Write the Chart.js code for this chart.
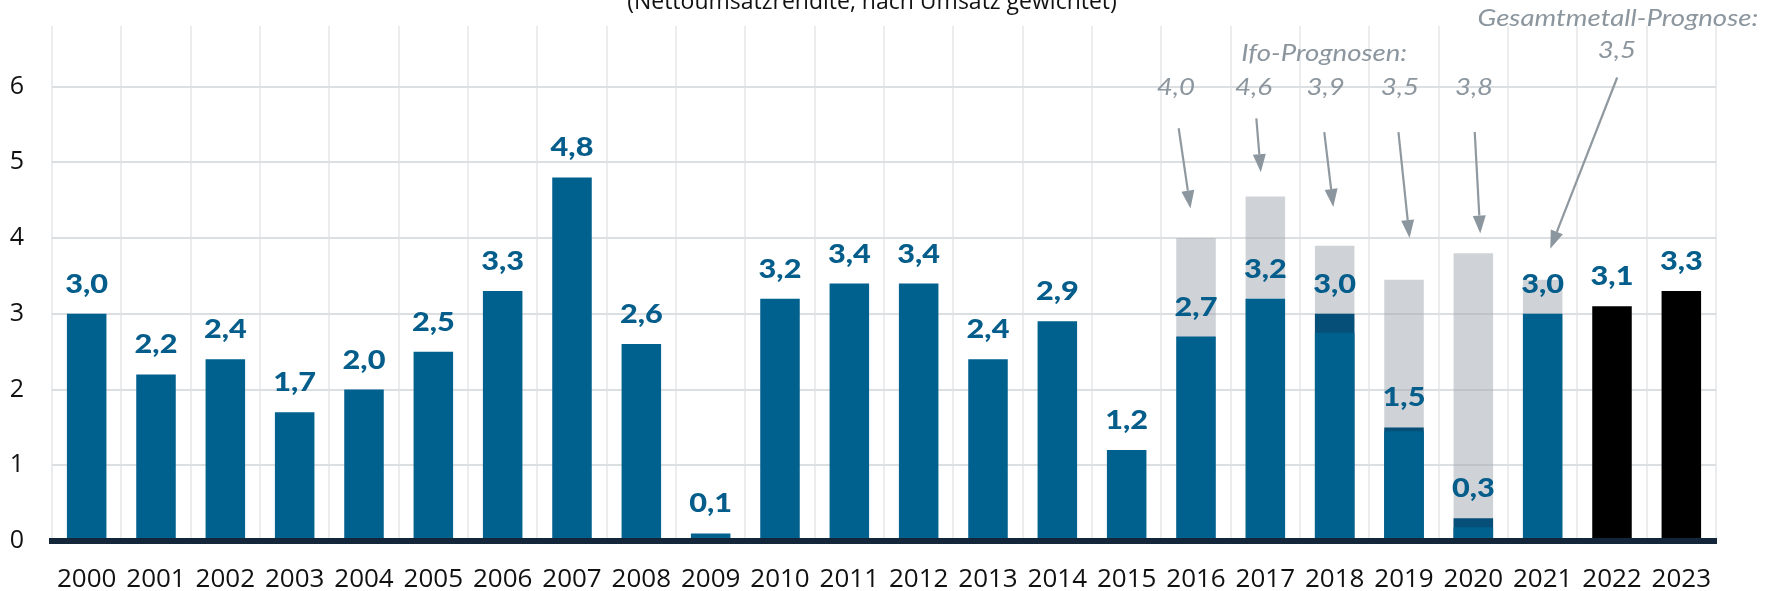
<!DOCTYPE html>
<html>
<head>
<meta charset="utf-8">
<script src="https://cdn.jsdelivr.net/npm/chart.js@4.4.1/dist/chart.umd.min.js"></script>
<style>
    html, body { margin: 0; padding: 0; background: #fff; }
</style>
</head>
<body>
<canvas id="myChart" width="1773" height="591"></canvas>
<script>
// Years on the x axis
const years = ['2000', '2001', '2002', '2003', '2004', '2005', '2006', '2007', '2008', '2009', '2010', '2011',
    '2012', '2013', '2014', '2015', '2016', '2017', '2018', '2019', '2020', '2021', '2022', '2023'];

// Net return on sales (%) as labelled above the bars
const returns = [3.0, 2.2, 2.4, 1.7, 2.0, 2.5, 3.3, 4.8, 2.6, 0.1, 3.2, 3.4, 3.4, 2.4, 2.9, 1.2, 2.7, 3.2, 3.0, 1.5, 0.3, 3.0, 3.1, 3.3];

// Lower part of the bar where a darker band sits on top
const earlierReturns = [null, null, null, null, null, null, null, null, null, null, null, null,
    null, null, null, null, null, null, 2.75, 1.45, 0.18, null, null, null];

// Forecasts shown as grey bars behind
const forecasts = [null, null, null, null, null, null, null, null, null, null, null, null,
    null, null, null, null, 4.0, 4.55, 3.9, 3.45, 3.8, 3.45, null, null];
const forecastLabels = ['4,0', '4,6', '3,9', '3,5', '3,8', '3,5'];

const yTicks = [0, 1, 2, 3, 4, 5, 6];

const blue = '#00618e';
const darkBlue = '#064f78';
const grey = 'rgba(160, 167, 175, 0.5)';
const noteGrey = '#8c969e';

const mainColors = years.map((y, i) => {
    if (i >= 22) return '#000000';
    if (earlierReturns[i] !== null) return darkBlue;
    return blue;
});

// Annotation layout in axis units (x: category index offset, y: value)
const ifoNotes = [
    { i: 16, tx: -0.29, from: [-0.25, 5.45], to: [-0.08, 4.39] },
    { i: 17, tx: -0.17, from: [-0.13, 5.58], to: [-0.065, 4.87] },
    { i: 18, tx: -0.13, from: [-0.15, 5.40], to: [-0.02, 4.41] },
    { i: 19, tx: -0.06, from: [-0.08, 5.40], to: [0.08, 4.0] },
    { i: 20, tx: 0.01, from: [0.02, 5.40], to: [0.10, 4.06] }
];
const gesamtNote = { i: 21, tx: 1.07, ty: 6.38, from: [1.075, 6.12], to: [0.11, 3.86] };

function fmt(v) {
    return v.toFixed(1).replace('.', ',');
}

// text drawn a bit wider, like the stretched original
function wideText(ctx, text, x, y, sx) {
    ctx.save();
    ctx.translate(x, y);
    ctx.scale(sx, 1);
    ctx.fillText(text, 0, 0);
    ctx.restore();
}

function drawArrow(ctx, x1, y1, x2, y2) {
    const ang = Math.atan2(y2 - y1, x2 - x1);
    const head = 18, half = 6.5;
    const c = Math.cos(ang), s = Math.sin(ang);
    ctx.beginPath();
    ctx.moveTo(x1, y1);
    ctx.lineTo(x2 - c * head, y2 - s * head);
    ctx.stroke();
    ctx.beginPath();
    ctx.moveTo(x2, y2);
    ctx.lineTo(x2 - c * head + s * half, y2 - s * head - c * half);
    ctx.lineTo(x2 - c * head - s * half, y2 - s * head + c * half);
    ctx.closePath();
    ctx.fill();
}

// Value labels above the bars
const valueLabels = {
    id: 'valueLabels',
    afterDatasetsDraw(chart) {
        const ctx = chart.ctx;
        const meta = chart.getDatasetMeta(1);
        ctx.save();
        ctx.font = '900 26px Lato';
        ctx.fillStyle = '#045d8a';
        ctx.textAlign = 'center';
        ctx.textBaseline = 'alphabetic';
        meta.data.forEach((bar, i) => {
            wideText(ctx, fmt(returns[i]), bar.x, bar.y - 21, 1.18);
        });
        ctx.restore();
    }
};

// Title and forecast notes with arrows
const notes = {
    id: 'notes',
    afterDraw(chart) {
        const ctx = chart.ctx;
        const xs = chart.scales.x, ys = chart.scales.y;
        const step = xs.getPixelForValue(1) - xs.getPixelForValue(0);
        const px = (i, dx) => xs.getPixelForValue(i) + dx * step;

        ctx.save();
        // cut-off subtitle at the top
        ctx.font = '23px "Open Sans"';
        ctx.fillStyle = '#111';
        ctx.textAlign = 'center';
        ctx.textBaseline = 'alphabetic';
        ctx.fillText('(Nettoumsatzrendite, nach Umsatz gewichtet)', 872, 9);

        ctx.fillStyle = noteGrey;
        ctx.strokeStyle = '#8f999f';
        ctx.lineWidth = 2.2;
        ctx.font = 'italic 24px Lato';

        wideText(ctx, 'Ifo-Prognosen:', px(18, -0.15), ys.getPixelForValue(6.34), 1.15);
        ifoNotes.forEach((n, k) => {
            wideText(ctx, forecastLabels[k], px(n.i, n.tx), ys.getPixelForValue(5.89), 1.15);
            drawArrow(ctx, px(n.i, n.from[0]), ys.getPixelForValue(n.from[1]),
                px(n.i, n.to[0]), ys.getPixelForValue(n.to[1]));
        });

        const g = gesamtNote;
        ctx.textAlign = 'right';
        wideText(ctx, 'Gesamtmetall-Prognose:', px(g.i, 3.11), ys.getPixelForValue(6.8), 1.15);
        ctx.textAlign = 'center';
        wideText(ctx, forecastLabels[5], px(g.i, g.tx), ys.getPixelForValue(g.ty), 1.15);
        drawArrow(ctx, px(g.i, g.from[0]), ys.getPixelForValue(g.from[1]),
            px(g.i, g.to[0]), ys.getPixelForValue(g.to[1]));
        ctx.restore();
    }
};

const ctx = document.getElementById('myChart').getContext('2d');
new Chart(ctx, {
    type: 'bar',
    data: {
        labels: years,
        datasets: [
            {
                label: 'Prognose',
                data: forecasts,
                backgroundColor: grey,
                order: 3
            },
            {
                label: 'Umsatzrendite',
                data: returns,
                backgroundColor: mainColors,
                order: 2
            },
            {
                label: 'Vorwert',
                data: earlierReturns,
                backgroundColor: blue,
                order: 1
            }
        ]
    },
    options: {
        responsive: false,
        animation: false,
        devicePixelRatio: 1,
        datasets: {
            bar: {
                grouped: false,
                barPercentage: 0.57,
                categoryPercentage: 1
            }
        },
        layout: {
            padding: { top: 26, right: 57, left: 0, bottom: 0 }
        },
        scales: {
            x: {
                afterFit: (scale) => {
                    scale.height = 50;
                    scale.paddingLeft = 0;
                    scale.paddingRight = 0;
                },
                grid: {
                    color: '#eaeced',
                    lineWidth: 2,
                    drawTicks: false,
                    offset: true
                },
                border: { color: '#14263a', width: 6, z: 1 },
                ticks: {
                    color: '#111',
                    font: { family: 'Open Sans', size: 26 },
                    padding: 23,
                    maxRotation: 0,
                    autoSkip: false
                }
            },
            y: {
                min: 0,
                max: 6.8,
                afterFit: (scale) => {
                    scale.width = 52;
                    scale.paddingTop = 0;
                    scale.paddingBottom = 0;
                },
                afterBuildTicks: (scale) => {
                    scale.ticks = yTicks.map(v => ({ value: v }));
                },
                grid: {
                    color: '#dcdfe2',
                    lineWidth: 2,
                    drawTicks: false
                },
                border: { display: false },
                ticks: {
                    color: '#111',
                    font: { family: 'Open Sans', size: 25 },
                    padding: 28
                }
            }
        },
        plugins: {
            legend: { display: false },
            tooltip: { enabled: false },
            title: { display: false }
        }
    },
    plugins: [valueLabels, notes]
});
</script>
</body>
</html>
